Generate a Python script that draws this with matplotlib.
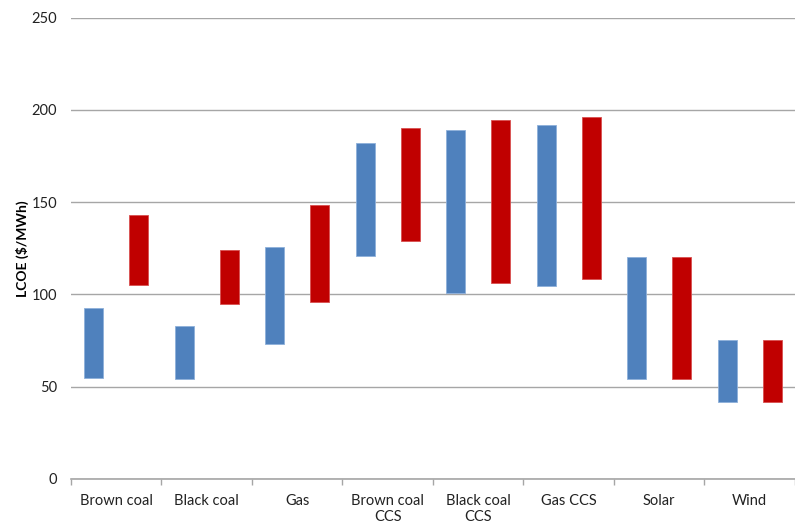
import matplotlib.pyplot as plt
import numpy as np

categories = ["Brown coal", "Black coal", "Gas", "Brown coal\nCCS", "Black coal\nCCS",
              "Gas CCS", "Solar", "Wind"]
# low / high LCOE ranges for the two cost cases
blue_low = [54.5, 54, 73, 121, 100.5, 104.5, 54, 41.5]
blue_high = [92.5, 83, 125.5, 182, 189, 192, 120.5, 75.5]
red_low = [105, 95, 96, 129, 106, 108.5, 54, 41.5]
red_high = [143, 124, 148.5, 190, 194.5, 196, 120.5, 75.5]

plt.rcParams['font.family'] = ['Lato', 'DejaVu Sans']

fig = plt.figure(figsize=(7.95, 5.26), dpi=100)
ax = fig.add_axes([0.0893, 0.0894, 0.9107, 0.8773])

x = np.arange(len(categories))
w = 0.21
off = 0.248
ax.bar(x - off, np.array(blue_high) - np.array(blue_low), w, bottom=blue_low,
       color="#4F81BD", edgecolor="#8EB0DA", linewidth=0.6, zorder=3)
ax.bar(x + off, np.array(red_high) - np.array(red_low), w, bottom=red_low,
       color="#C00000", edgecolor="#D85050", linewidth=0.6, zorder=3)

ax.set_ylim(0, 250)
ax.set_xlim(-0.5, 7.42)
ax.set_yticks(range(0, 251, 50))
ax.yaxis.grid(True, color="#A6A6A6", linewidth=1.0, zorder=0)
ax.tick_params(axis='y', length=0, pad=10, labelsize=10.5, labelcolor="#222222")

ax.set_xticks(x)
ax.set_xticklabels(categories, fontsize=10.5, color="#222222", linespacing=1.2)
ax.set_xticks(np.arange(-0.5, 8, 1), minor=True)
ax.tick_params(axis='x', which='major', length=0, pad=11)
ax.tick_params(axis='x', which='minor', length=4, color="#A6A6A6", width=1)

for s in ['top', 'right', 'left']:
    ax.spines[s].set_visible(False)
ax.spines['bottom'].set_color("#A6A6A6")
ax.spines['bottom'].set_linewidth(1.2)

ax.set_ylabel("LCOE ($/MWh)", fontsize=10, fontweight='bold', labelpad=2)

fig.savefig("out.png", dpi=100)
